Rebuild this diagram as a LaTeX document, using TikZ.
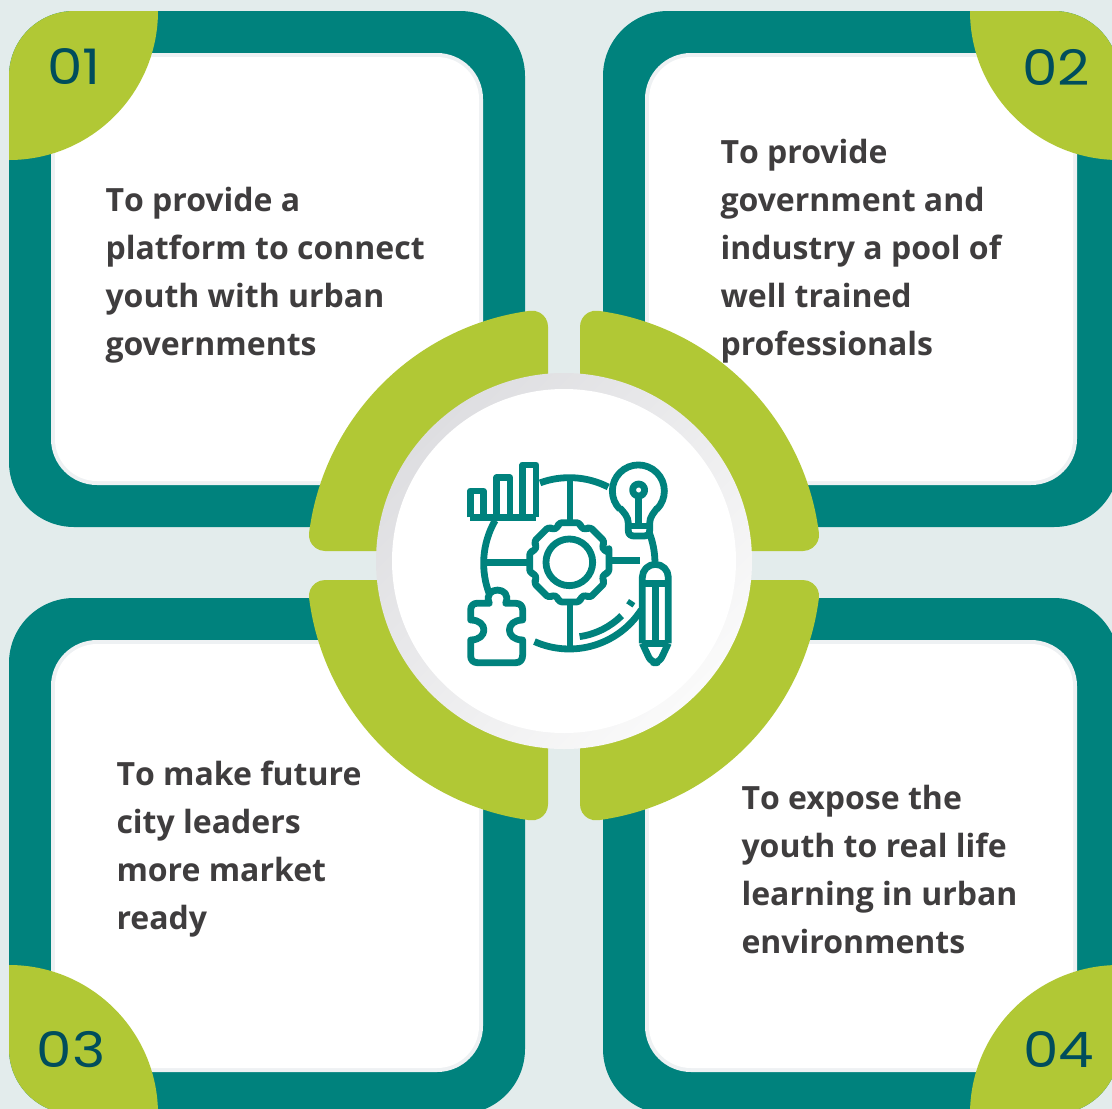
\documentclass[tikz,border=0pt]{standalone}
\usepackage{fontspec}
\setmainfont{Open Sans}
\newfontfamily\numfont[FakeStretch=1.15]{Poppins}
\definecolor{bgc}{HTML}{E3ECEC}
\definecolor{tealc}{HTML}{00827D}
\definecolor{greenc}{HTML}{B1C835}
\definecolor{edgec}{HTML}{EEF1F3}
\definecolor{ringa}{HTML}{DEDEE1}
\definecolor{ringb}{HTML}{FAFAFA}
\definecolor{textc}{HTML}{3F3D3E}
\definecolor{numc}{HTML}{004D5C}
\tikzset{
  bodytext/.style={inner sep=0pt,outer sep=0pt,anchor=north west,align=left,text=textc,font=\fontsize{32}{48}\selectfont\bfseries},
  numtext/.style={inner sep=0pt,text=numc,font=\numfont\fontsize{49}{49}\selectfont},
  iconline/.style={draw=tealc,line width=6.8pt,line join=round}
}
\newcommand{\panelat}[2]{%
  \fill[tealc,rounded corners=65pt] (#1,#2) rectangle ++(516,516);
  \fill[edgec,rounded corners=46pt] (#1+42,#2+42) rectangle ++(432,432);
  \fill[white,rounded corners=42pt] (#1+46,#2+46) rectangle ++(424,424);
}
\newcommand{\greenarc}[2]{%
  \fill[greenc,shift={(564,565.5)},xscale=#1,yscale=#2]
    (16,14.5) -- (16,238.87) arc[start angle=180,end angle=82.37,radius=16]
    arc[start angle=82.37,end angle=7.27,radius=257]
    arc[start angle=7.27,end angle=-90,radius=16] -- cycle;
}
\begin{document}
\begin{tikzpicture}[x=1pt,y=-1pt]
\useasboundingbox (0,0) rectangle (1112,1109);
\clip (0,0) rectangle (1112,1109);
\fill[bgc] (0,0) rectangle (1112,1109);
\panelat{9}{11}
\panelat{603}{11}
\panelat{9}{598}
\panelat{603}{598}
% corner leaves
\begin{scope}
  \clip[rounded corners=65pt] (9,11) rectangle ++(516,516);
  \fill[greenc] (9,11) circle[radius=149pt];
\end{scope}
\begin{scope}
  \clip[rounded corners=65pt] (603,11) rectangle ++(516,516);
  \fill[greenc] (1119,11) circle[radius=149pt];
\end{scope}
\begin{scope}
  \clip[rounded corners=65pt] (9,598) rectangle ++(516,516);
  \fill[greenc] (9,1114) circle[radius=149pt];
\end{scope}
\begin{scope}
  \clip[rounded corners=65pt] (603,598) rectangle ++(516,516);
  \fill[greenc] (1119,1114) circle[radius=149pt];
\end{scope}
% central ring
\greenarc{-1}{1}
\greenarc{1}{1}
\greenarc{-1}{-1}
\greenarc{1}{-1}
\shade[top color=ringa,bottom color=ringb,shading angle=45] (564,561) circle[radius=188pt];
\fill[white] (564,561) circle[radius=172pt];
% icon
\begin{scope}[shift={(440,440)},x=0.3333pt,y=-0.3333pt,iconline]
  % bars
  \draw (91,232) -- (91,153) -- (130,153) -- (130,232);
  \draw (170,232) -- (170,113) -- (210,113) -- (210,232);
  \draw (248,232) -- (248,75) -- (288,75) -- (288,232);
  \draw (91,232) -- (288,232);
  % big circle pieces (y grows downward in the scope)
  \draw (388,370) ++(-110:257) arc[start angle=-110,end angle=-63,radius=257];
  \draw (388,370) ++(-150:257) arc[start angle=-150,end angle=-202,radius=257];
  \draw (388,370) ++(114:257) arc[start angle=114,end angle=33,radius=257];
  \draw (388,370) ++(-22:257) arc[start angle=-22,end angle=-1,radius=257];
  % spokes
  \draw (390,113) -- (390,245);
  \draw (390,490) -- (390,627);
  \draw (132,368) -- (265,368);
  \draw (515,362) -- (600,362);
  % gear
  \draw[rounded corners=3pt,shift={(388,367)}] (-15:123)
    \foreach \a in {0,45,...,315} { -- (\a-15:123) -- (\a+15:123) -- (\a+18:110) -- (\a+27:110) } -- cycle;
  \draw (388,367) circle[radius=70];
  % bulb
  \draw (540,208) arc[start angle=135,end angle=405,radius=78] ;
  \draw (540,204) .. controls (552,218) and (565,230) .. (565,250) -- (565,272) .. controls (565,283) and (572,288) .. (582,288) -- (612,288) .. controls (622,288) and (629,283) .. (629,272) -- (629,250) .. controls (629,230) and (642,218) .. (652,204);
  \draw (568,258) -- (626,258);
  \draw (596,150) circle[radius=18];
  \draw (596,168) -- (596,258);
  % pencil
  \draw[fill=white] (607,610) -- (607,412) arc[start angle=180,end angle=360,radius=39] -- (685,610);
  \draw (607,430) -- (685,430);
  \draw (646,430) -- (646,610);
  \draw (607,610) -- (685,610);
  \draw[rounded corners=6pt] (607,610) -- (634,668) -- (658,668) -- (685,610);
  % small arc and dash
  \draw (388,370) ++(82:222) arc[start angle=82,end angle=45,radius=222];
  \draw[line width=7.5pt] (388,370) ++(35:220) arc[start angle=35,end angle=31,radius=220];
  % puzzle
  \draw (110,490) -- (148,490) .. controls (125,437) and (220,437) .. (197,490) -- (228,490) .. controls (240,490) and (248,498) .. (248,510) -- (248,540) .. controls (195,540) and (195,600) .. (248,600) -- (248,645) .. controls (248,660) and (240,668) .. (228,668) -- (112,668) .. controls (100,668) and (92,660) .. (92,648) -- (92,600) .. controls (145,600) and (145,540) .. (92,540) -- (92,510) .. controls (92,498) and (100,490) .. (110,490) -- cycle;
\end{scope}
% texts
\node[bodytext] (t1) at (105.5,187) {T\kern0pt o provide a\\platform to connect\\youth with urban\\governments};
\node[bodytext] (t2) at (720.5,139) {T\kern0pt o provide\\government and\\industry a pool of\\well trained\\professionals};
\node[bodytext] (t3) at (116.5,761) {T\kern0pt o make future\\city leaders\\more market\\ready};
\node[bodytext] (t4) at (741.5,785) {T\kern0pt o expose the\\youth to real life\\learning in urban\\environments};
\node[numtext] (n1) at (74,67) {01};
\node[numtext] (n2) at (1056,67) {02};
\node[numtext] (n3) at (71,1050) {03};
\node[numtext] (n4) at (1059,1050) {04};
\end{tikzpicture}
\end{document}
